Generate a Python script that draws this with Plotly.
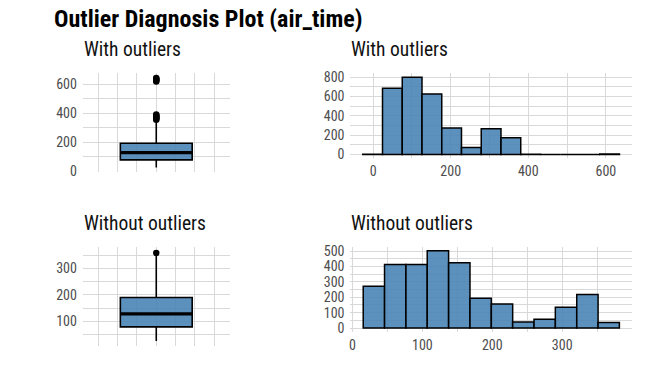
import plotly.graph_objects as go

W, H = 672, 384
FONT = "Roboto Condensed, Liberation Sans Narrow, Roboto, sans-serif"

# ---- data ----
# boxplot stats: with outliers
box1_stats = dict(q1=79, median=129, q3=194, lower=27, upper=352)
box1_outliers = [356, 362, 368, 374, 380, 386, 392, 620, 626, 632, 638, 644]
# boxplot stats: without outliers
box2_stats = dict(q1=79, median=128, q3=190, lower=26, upper=354)
box2_outliers = [359]

# histogram: with outliers
hist1_width = 50.9
hist1_centers = [-1.3, 49.6, 100.5, 151.4, 202.3, 253.2, 304.1, 355.0, 405.9, 456.8, 507.7, 558.6, 609.5]
hist1_counts = [3, 686, 800, 626, 274, 73, 268, 174, 4, 0, 0, 0, 6]

# histogram: without outliers
hist2_width = 30.55
hist2_centers = [30.6, 61.1, 91.7, 122.2, 152.8, 183.3, 213.9, 244.4, 275.0, 305.5, 336.1, 366.6]
hist2_counts = [272, 414, 414, 502, 424, 194, 156, 40, 57, 135, 218, 36]

title_text = "Outlier Diagnosis Plot (air_time)"
sub_with = "With outliers"
sub_without = "Without outliers"

FILL = "rgba(70,130,180,0.88)"
GRID = "#d9d9d9"
TICKC = "#4d4d4d"
BOXW = 1.86

fig = go.Figure()


def add_box(stats, outliers, xa, ya):
    fig.add_trace(go.Box(
        x=[0], q1=[stats["q1"]], median=[stats["median"]], q3=[stats["q3"]],
        lowerfence=[stats["lower"]], upperfence=[stats["upper"]],
        width=BOXW, whiskerwidth=0, boxpoints=False,
        fillcolor=FILL, line=dict(color="black", width=1.6),
        xaxis=xa, yaxis=ya, showlegend=False, hoverinfo="skip"))
    fig.add_trace(go.Scatter(
        x=[-BOXW / 2, BOXW / 2], y=[stats["median"]] * 2, mode="lines",
        line=dict(color="black", width=3.2), xaxis=xa, yaxis=ya,
        showlegend=False, hoverinfo="skip"))
    fig.add_trace(go.Scatter(
        x=[0] * len(outliers), y=outliers, mode="markers",
        marker=dict(color="black", size=6.5), xaxis=xa, yaxis=ya,
        showlegend=False, hoverinfo="skip"))


def add_hist(centers, counts, width, xa, ya):
    fig.add_trace(go.Bar(
        x=centers, y=counts, width=[width] * len(centers),
        marker=dict(color=FILL, line=dict(color="black", width=1.5)),
        xaxis=xa, yaxis=ya, showlegend=False, hoverinfo="skip"))


add_box(box1_stats, box1_outliers, "x", "y")
add_hist(hist1_centers, hist1_counts, hist1_width, "x2", "y2")
add_box(box2_stats, box2_outliers, "x3", "y3")
add_hist(hist2_centers, hist2_counts, hist2_width, "x4", "y4")


def px_x(a, b):
    return [a / W, b / W]


def px_y(top, bottom):
    return [1 - bottom / H, 1 - top / H]


axis_common = dict(showline=False, zeroline=False, ticks="", gridcolor=GRID, gridwidth=1,
                   tickfont=dict(family=FONT, size=14, color=TICKC), fixedrange=True)
minor_grid = dict(showgrid=True, gridcolor=GRID, gridwidth=1)

fig.update_layout(
    width=W, height=H, margin=dict(l=0, r=0, t=0, b=0),
    paper_bgcolor="white", plot_bgcolor="white", barmode="overlay", bargap=0,
    showlegend=False,
    xaxis=dict(domain=px_x(82, 229), anchor="y", range=[-1.9, 1.9], dtick=0.5, tick0=0,
               showticklabels=False, **axis_common),
    yaxis=dict(domain=px_y(71, 173), anchor="x", range=[-4.7, 678.5],
               tickvals=[0, 200, 400, 600], ticklabelstandoff=5,
               minor=dict(dtick=100, **minor_grid), **axis_common),
    xaxis2=dict(domain=px_x(350, 632), anchor="y2", range=[-58.4, 667.4],
                tickvals=[0, 200, 400, 600], ticklabelstandoff=3,
                minor=dict(dtick=100, **minor_grid), **axis_common),
    yaxis2=dict(domain=px_y(71, 159), anchor="x2", range=[-40, 843],
                tickvals=[0, 200, 400, 600, 800], ticklabelstandoff=5,
                minor=dict(dtick=100, **minor_grid), **axis_common),
    xaxis3=dict(domain=px_x(82, 229), anchor="y3", range=[-1.9, 1.9], dtick=0.5, tick0=0,
                showticklabels=False, **axis_common),
    yaxis3=dict(domain=px_y(250, 352), anchor="x3", range=[7, 382],
                tickvals=[100, 200, 300], ticklabelstandoff=5,
                minor=dict(dtick=50, **minor_grid), **axis_common),
    xaxis4=dict(domain=px_x(350, 632), anchor="y4", range=[-2.9, 400],
                tickvals=[0, 100, 200, 300], ticklabelstandoff=3,
                minor=dict(dtick=50, **minor_grid), **axis_common),
    yaxis4=dict(domain=px_y(250, 337.6), anchor="x4", range=[-25, 528],
                tickvals=[0, 100, 200, 300, 400, 500], ticklabelstandoff=5,
                minor=dict(dtick=50, **minor_grid), **axis_common),
)

annots = [
    dict(text="<b>" + title_text + "</b>", x=51 / W, y=1 - 15 / H, size=24, color="black"),
    dict(text=sub_with, x=81 / W, y=1 - 47 / H, size=19.5, color="#111111"),
    dict(text=sub_with, x=349 / W, y=1 - 47 / H, size=19.5, color="#111111"),
    dict(text=sub_without, x=81 / W, y=1 - 226 / H, size=19.5, color="#111111"),
    dict(text=sub_without, x=349 / W, y=1 - 226 / H, size=19.5, color="#111111"),
]
for a in annots:
    fig.add_annotation(text=a["text"], x=a["x"], y=a["y"], xref="paper", yref="paper",
                       xanchor="left", yanchor="middle", showarrow=False,
                       font=dict(family=FONT, size=a["size"], color=a["color"]))

fig.write_html("out.html", config={"displayModeBar": False, "staticPlot": True},
               post_script="document.body.style.margin='0px';")
